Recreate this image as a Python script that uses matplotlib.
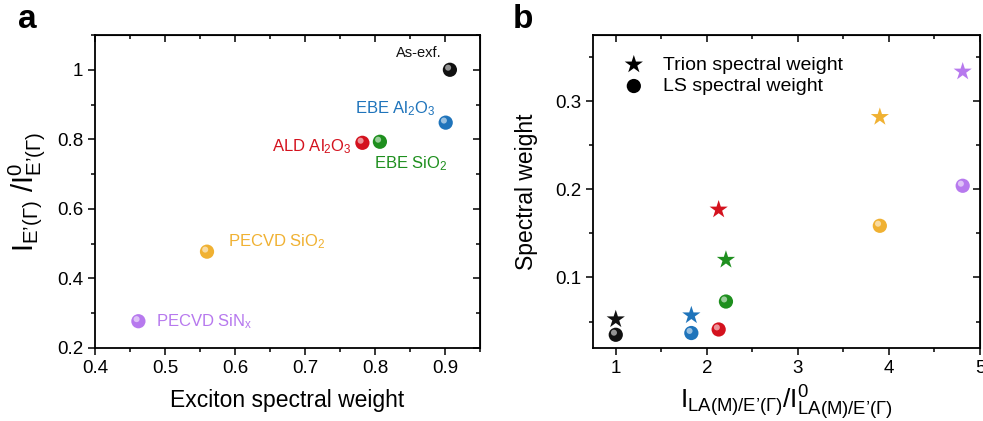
import matplotlib
matplotlib.use("Agg")
import matplotlib.pyplot as plt
import matplotlib.transforms as mtransforms
from matplotlib.ticker import MultipleLocator

plt.rcParams['font.family'] = ['Liberation Sans', 'DejaVu Sans']
plt.rcParams['mathtext.fontset'] = 'custom'
plt.rcParams['mathtext.rm'] = 'Liberation Sans'
plt.rcParams['mathtext.it'] = 'Liberation Sans'
plt.rcParams['mathtext.bf'] = 'Liberation Sans:bold'

# ---------------- data ----------------
samples = ["As-exf.", "EBE Al2O3", "ALD Al2O3", "EBE SiO2", "PECVD SiO2", "PECVD SiNx"]
colors = ["#111111", "#1f74bb", "#d4121e", "#1e8f1e", "#f0b132", "#b779ee"]

# panel a
exciton_sw = [0.907, 0.901, 0.782, 0.807, 0.560, 0.462]
e_ratio = [1.0, 0.848, 0.790, 0.793, 0.477, 0.277]
labels_a = ["As-exf.", r"EBE Al$_\mathregular{2}$O$_\mathregular{3}$",
            r"ALD Al$_\mathregular{2}$O$_\mathregular{3}$", r"EBE SiO$_\mathregular{2}$",
            r"PECVD SiO$_\mathregular{2}$", r"PECVD SiN$_\mathregular{x}$"]

# panel b
la_ratio = [1.0, 1.83, 2.13, 2.21, 3.90, 4.81]
trion_sw = [0.0525, 0.057, 0.177, 0.120, 0.282, 0.3335]
ls_sw = [0.035, 0.037, 0.041, 0.0727, 0.1586, 0.204]

# ---------------- figure ----------------
fig = plt.figure(figsize=(9.83, 4.21), dpi=100)
W, H = 983, 421
axa = fig.add_axes([95 / W, 1 - 348 / H, (480 - 95) / W, (348 - 35) / H])
axb = fig.add_axes([593 / W, 1 - 348 / H, (980 - 593) / W, (348 - 35) / H])

TICK_FS = 13.5


def sphere(ax, x, y, c, s=105):
    ax.scatter(x, y, s=s, c=c, edgecolors='none', zorder=3)
    off = mtransforms.offset_copy(ax.transData, fig=fig, x=-1.3, y=1.5, units='points')
    ax.scatter(x, y, s=s * 0.18, c='white', alpha=0.55, edgecolors='none',
               transform=off, zorder=4)


def style(ax, xmaj, xmin, ymaj, ymin):
    for sp in ax.spines.values():
        sp.set_linewidth(1.3)
    ax.tick_params(which='both', direction='out', top=False, right=False,
                   labelsize=TICK_FS, width=1.1)
    ax.tick_params(which='major', length=5)
    ax.tick_params(which='minor', length=3)
    ax.xaxis.set_minor_locator(MultipleLocator(xmin))
    ax.yaxis.set_minor_locator(MultipleLocator(ymin))
    sec_x = ax.secondary_xaxis('top')
    sec_y = ax.secondary_yaxis('right')
    sec_x.xaxis.set_major_locator(MultipleLocator(xmaj))
    sec_x.xaxis.set_minor_locator(MultipleLocator(xmin))
    sec_y.yaxis.set_major_locator(MultipleLocator(ymaj))
    sec_y.yaxis.set_minor_locator(MultipleLocator(ymin))
    for sec in (sec_x, sec_y):
        sec.tick_params(which='both', direction='in', labelsize=0, width=1.1)
        sec.tick_params(which='major', length=5)
        sec.tick_params(which='minor', length=3)
    sec_x.set_xticklabels([])
    sec_y.set_yticklabels([])

# ---- panel a
sphere(axa, exciton_sw, e_ratio, colors)
axa.set_xlim(0.4, 0.95)
axa.set_ylim(0.2, 1.1)
axa.set_xticks([0.4, 0.5, 0.6, 0.7, 0.8, 0.9])
axa.set_xticklabels(["0.4", "0.5", "0.6", "0.7", "0.8", "0.9"])
axa.set_yticks([0.2, 0.4, 0.6, 0.8, 1.0])
axa.set_yticklabels(["0.2", "0.4", "0.6", "0.8", "1"])
style(axa, 0.1, 0.05, 0.2, 0.1)

axa.set_xlabel("Exciton spectral weight", fontsize=16.5, labelpad=9)
axa.set_ylabel(r"$\mathregular{I_{E’(Γ)}\ /I^{0}_{E’(Γ)}}$", fontsize=21, labelpad=7)

ann_a = [(-6, 12, 'right', 'center', 10.5), (-7, 10, 'right', 'center', 12),
         (-8, -3, 'right', 'center', 12), (22, -16, 'center', 'center', 12),
         (15, 7, 'left', 'center', 12), (13, 0, 'left', 'center', 12)]
for x, y, lab, c, (dx, dy, ha, va, fs) in zip(exciton_sw, e_ratio, labels_a, colors, ann_a):
    axa.annotate(lab, (x, y), xytext=(dx, dy), textcoords='offset points',
                 ha=ha, va=va, color=c, fontsize=fs)

# ---- panel b
axb.scatter(la_ratio, trion_sw, marker='*', s=190, c=colors, edgecolors='none', zorder=3)
sphere(axb, la_ratio, ls_sw, colors)
axb.set_xlim(0.75, 5.0)
axb.set_ylim(0.02, 0.375)
axb.set_xticks([1, 2, 3, 4, 5])
axb.set_xticklabels(["1", "2", "3", "4", "5"])
axb.set_yticks([0.1, 0.2, 0.3])
axb.set_yticklabels(["0.1", "0.2", "0.3"])
style(axb, 1, 0.5, 0.1, 0.05)

axb.set_ylabel("Spectral weight", fontsize=16.5, labelpad=12)
axb.set_xlabel(r"$\mathregular{I_{LA(M)/E’(Γ)}/I^{0}_{LA(M)/E’(Γ)}}$", fontsize=19, labelpad=5)

# legend
h1 = axb.scatter([], [], marker='*', s=190, c='black', edgecolors='none')
h2 = axb.scatter([], [], marker='o', s=105, c='black', edgecolors='none')
axb.legend([h1, h2], ["Trion spectral weight", "LS spectral weight"], loc='upper left',
           frameon=False, fontsize=14, handletextpad=0.5, borderaxespad=0.6,
           bbox_to_anchor=(0.005, 0.995), labelspacing=0.2)

fig.text(18 / W, 1 - 20 / H, "a", fontsize=24, fontweight='bold', va='center', ha='left')
fig.text(513 / W, 1 - 20 / H, "b", fontsize=24, fontweight='bold', va='center', ha='left')

fig.savefig("out.png", dpi=100)
